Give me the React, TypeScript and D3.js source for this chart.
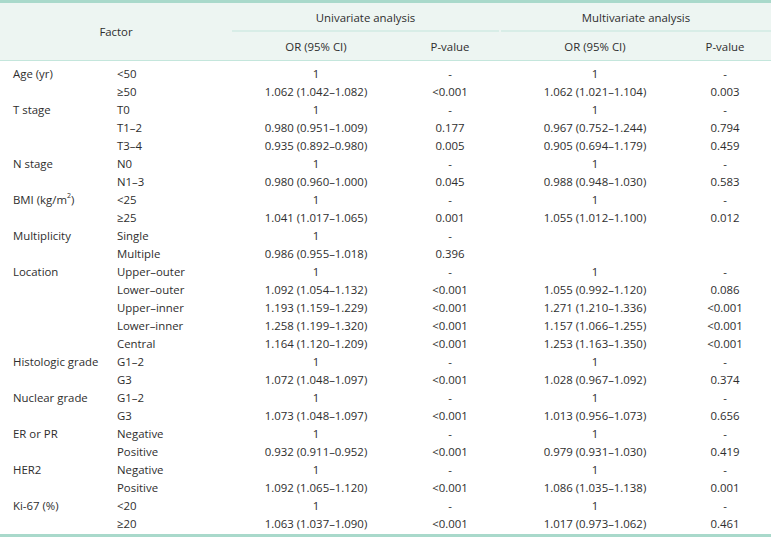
import React from "react";
import * as d3 from "d3";

const factors = ["Age (yr)", "", "T stage", "", "", "N stage", "", "BMI (kg/m2)", "", "Multiplicity", "", "Location", "", "", "", "", "Histologic grade", "", "Nuclear grade", "", "ER or PR", "", "HER2", "", "Ki-67 (%)", ""];
const levels = ["<50", "≥50", "T0", "T1–2", "T3–4", "N0", "N1–3", "<25", "≥25", "Single", "Multiple", "Upper–outer", "Lower–outer", "Upper–inner", "Lower–inner", "Central", "G1–2", "G3", "G1–2", "G3", "Negative", "Positive", "Negative", "Positive", "<20", "≥20"];
const uniOR = ["1", "1.062 (1.042–1.082)", "1", "0.980 (0.951–1.009)", "0.935 (0.892–0.980)", "1", "0.980 (0.960–1.000)", "1", "1.041 (1.017–1.065)", "1", "0.986 (0.955–1.018)", "1", "1.092 (1.054–1.132)", "1.193 (1.159–1.229)", "1.258 (1.199–1.320)", "1.164 (1.120–1.209)", "1", "1.072 (1.048–1.097)", "1", "1.073 (1.048–1.097)", "1", "0.932 (0.911–0.952)", "1", "1.092 (1.065–1.120)", "1", "1.063 (1.037–1.090)"];
const uniP = ["-", "<0.001", "-", "0.177", "0.005", "-", "0.045", "-", "0.001", "-", "0.396", "-", "<0.001", "<0.001", "<0.001", "<0.001", "-", "<0.001", "-", "<0.001", "-", "<0.001", "-", "<0.001", "-", "<0.001"];
const multiOR = ["1", "1.062 (1.021–1.104)", "1", "0.967 (0.752–1.244)", "0.905 (0.694–1.179)", "1", "0.988 (0.948–1.030)", "1", "1.055 (1.012–1.100)", "", "", "1", "1.055 (0.992–1.120)", "1.271 (1.210–1.336)", "1.157 (1.066–1.255)", "1.253 (1.163–1.350)", "1", "1.028 (0.967–1.092)", "1", "1.013 (0.956–1.073)", "1", "0.979 (0.931–1.030)", "1", "1.086 (1.035–1.138)", "1", "1.017 (0.973–1.062)"];
const multiP = ["-", "0.003", "-", "0.794", "0.459", "-", "0.583", "-", "0.012", "", "", "-", "0.086", "<0.001", "<0.001", "<0.001", "-", "0.374", "-", "0.656", "-", "0.419", "-", "0.001", "-", "0.461"];
const groupHeaders = ["Univariate analysis", "Multivariate analysis"];
const subHeaders = ["OR (95% CI)", "P-value", "OR (95% CI)", "P-value"];

const W = 771;
const H = 538;
const FONT = "'Open Sans', sans-serif";
const TEXT = "#2e2e2e";
const LINE = "#a9d9cb";
const BG = "#edf5f2";

export default function App() {
  const y = d3.scaleLinear().domain([0, levels.length - 1]).range([73, 523]);
  const colX = [316, 450, 595, 725];
  const groupX = [[232, 499], [501, 771]];
  const fs = 11.4;
  return (
    <svg width={W} height={H} style={{ position: "absolute", left: 0, top: 0, background: "#fff" }}
      fontFamily={FONT} fontSize={fs} fill={TEXT}>
      <rect x={0} y={0} width={W} height={H} fill="#fff" />
      <rect x={0} y={2} width={W} height={58} fill={BG} />
      <rect x={0} y={0} width={W} height={3} fill={LINE} />
      {groupX.map((g, i) => (
        <line key={i} x1={g[0]} x2={g[1]} y1={31} y2={31} stroke="#c4e6dc" strokeWidth={1.2} />
      ))}
      <line x1={0} x2={W} y1={60.5} y2={60.5} stroke="#c4e6dc" strokeWidth={1.2} />
      <text x={116} y={31} textAnchor="middle" dominantBaseline="central">Factor</text>
      {groupHeaders.map((g, i) => (
        <text key={g} x={(groupX[i][0] + groupX[i][1]) / 2} y={17} textAnchor="middle" dominantBaseline="central">{g}</text>
      ))}
      {subHeaders.map((s, i) => (
        <text key={i} x={colX[i]} y={46} textAnchor="middle" dominantBaseline="central">{s}</text>
      ))}
      {levels.map((lv, i) => {
        const yy = y(i);
        const f = factors[i];
        return (
          <g key={i}>
            {f === "BMI (kg/m2)" ? (
              <text x={13} y={yy} dominantBaseline="central">BMI (kg/m<tspan fontSize={7} dy={-4}>2</tspan><tspan dy={4}>)</tspan></text>
            ) : f ? (
              <text x={13} y={yy} dominantBaseline="central">{f}</text>
            ) : null}
            <text x={117} y={yy} dominantBaseline="central">{lv}</text>
            <text x={colX[0]} y={yy} textAnchor="middle" dominantBaseline="central">{uniOR[i]}</text>
            <text x={colX[1]} y={yy} textAnchor="middle" dominantBaseline="central">{uniP[i]}</text>
            <text x={colX[2]} y={yy} textAnchor="middle" dominantBaseline="central">{multiOR[i]}</text>
            <text x={colX[3]} y={yy} textAnchor="middle" dominantBaseline="central">{multiP[i]}</text>
          </g>
        );
      })}
      <rect x={0} y={534} width={W} height={3} fill={LINE} />
    </svg>
  );
}
